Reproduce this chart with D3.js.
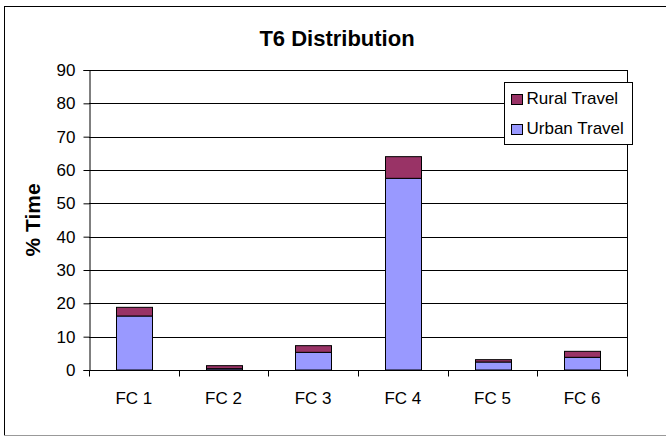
<!DOCTYPE html>
<html>
<head>
<meta charset="utf-8">
<script src="https://cdn.jsdelivr.net/npm/d3@7"></script>
<style>
  body { margin: 0; background: #fff; }
  svg { display: block; font-family: Arial, "Liberation Sans", sans-serif; }
</style>
</head>
<body>
<div id="chart"></div>
<script>
// data
var categories = ["FC 1", "FC 2", "FC 3", "FC 4", "FC 5", "FC 6"];
var urban = [16.2, 0.4, 5.3, 57.5, 2.4, 3.8];
var rural = [2.6, 0.9, 2.0, 6.5, 0.7, 1.8];
var yTicks = [0, 10, 20, 30, 40, 50, 60, 70, 80, 90];
var seriesNames = ["Urban Travel", "Rural Travel"];
var colors = {"Urban Travel": "#9999ff", "Rural Travel": "#993366"};

var W = 666, H = 437;
// plot area edges (window.top is reserved, so use own names)
var pLeft = 89, pRight = 627, pTop = 70, pBottom = 370;

var svg = d3.select("#chart").append("svg")
  .attr("width", W).attr("height", H);

// outer chart border
svg.append("rect")
  .attr("x", 4.5).attr("y", 6.5)
  .attr("width", 670).attr("height", 429)
  .attr("fill", "#fff").attr("stroke", "#000").attr("stroke-width", 1);
svg.append("line")
  .attr("x1", 4).attr("x2", W).attr("y1", 435.5).attr("y2", 435.5)
  .attr("stroke", "#999");

var x = d3.scaleBand().domain(categories).range([pLeft, pRight]).paddingInner(0).paddingOuter(0);
var y = d3.scaleLinear().domain([0, 90]).range([pBottom, pTop]);

// gridlines
svg.append("g").selectAll("line")
  .data(yTicks.filter(function(d) { return d > 0; }))
  .enter().append("line")
  .attr("x1", pLeft).attr("x2", pRight)
  .attr("y1", function(d) { return Math.round(y(d)) + 0.5; })
  .attr("y2", function(d) { return Math.round(y(d)) + 0.5; })
  .attr("stroke", "#000").attr("stroke-width", 1);

// plot right edge
svg.append("line")
  .attr("x1", pRight + 0.5).attr("x2", pRight + 0.5)
  .attr("y1", pTop).attr("y2", pBottom)
  .attr("stroke", "#000");

// stacked bars
var rows = categories.map(function(c, i) {
  return {cat: c, "Urban Travel": urban[i], "Rural Travel": rural[i]};
});
var stack = d3.stack().keys(seriesNames)(rows);
var barW = x.bandwidth() * 0.4;

svg.append("g").selectAll("g")
  .data(stack).enter().append("g")
  .attr("fill", function(d) { return colors[d.key]; })
  .selectAll("rect")
  .data(function(d) { return d; })
  .enter().append("rect")
  .attr("x", function(d) { return Math.round(x(d.data.cat) + (x.bandwidth() - barW) / 2) + 0.5; })
  .attr("width", Math.round(barW))
  .attr("y", function(d) { return y(d[1]); })
  .attr("height", function(d) { return y(d[0]) - y(d[1]); })
  .attr("stroke", "#000").attr("stroke-width", 1);

// y axis
var yAxis = svg.append("g")
  .attr("transform", "translate(" + (pLeft + 0.5) + ",0)")
  .call(d3.axisLeft(y).tickValues(yTicks).tickSize(6).tickPadding(8));
yAxis.select(".domain").attr("stroke", "#000");
yAxis.selectAll("line").attr("stroke", "#000");
yAxis.selectAll("text").style("font-size", "17px").attr("fill", "#000");

// x axis, ticks sit on the category boundaries
var xAxisG = svg.append("g")
  .attr("transform", "translate(0," + (pBottom + 0.5) + ")");
xAxisG.append("line")
  .attr("x1", pLeft).attr("x2", pRight + 1)
  .attr("stroke", "#000");
var bounds = categories.map(function(c) { return x(c); }).concat([pRight]);
xAxisG.selectAll(".tk").data(bounds).enter().append("line")
  .attr("class", "tk")
  .attr("x1", function(d) { return Math.round(d) + 0.5; })
  .attr("x2", function(d) { return Math.round(d) + 0.5; })
  .attr("y1", 0).attr("y2", 6)
  .attr("stroke", "#000");
xAxisG.selectAll(".lb").data(categories).enter().append("text")
  .attr("class", "lb")
  .attr("x", function(d) { return x(d) + x.bandwidth() / 2; })
  .attr("y", 33)
  .attr("text-anchor", "middle")
  .style("font-size", "17px")
  .text(function(d) { return d; });

// title
svg.append("text")
  .attr("x", 337).attr("y", 46)
  .attr("text-anchor", "middle")
  .style("font-size", "22px").style("font-weight", "bold")
  .text("T6 Distribution");

// y axis title
svg.append("text")
  .attr("transform", "translate(40," + ((pTop + pBottom) / 2) + ") rotate(-90)")
  .attr("text-anchor", "middle")
  .style("font-size", "21px").style("font-weight", "bold")
  .text("% Time");

// legend
var lg = svg.append("g").attr("transform", "translate(504.5,82.5)");
lg.append("rect")
  .attr("width", 128).attr("height", 62)
  .attr("fill", "#fff").attr("stroke", "#000");
var legendOrder = ["Rural Travel", "Urban Travel"];
var items = lg.selectAll(".it").data(legendOrder).enter().append("g")
  .attr("class", "it")
  .attr("transform", function(d, i) { return "translate(7," + (12 + i * 30) + ")"; });
items.append("rect")
  .attr("width", 11).attr("height", 10)
  .attr("fill", function(d) { return colors[d]; })
  .attr("stroke", "#000");
items.append("text")
  .attr("x", 15).attr("y", 9)
  .style("font-size", "17px")
  .text(function(d) { return d; });
</script>
</body>
</html>
